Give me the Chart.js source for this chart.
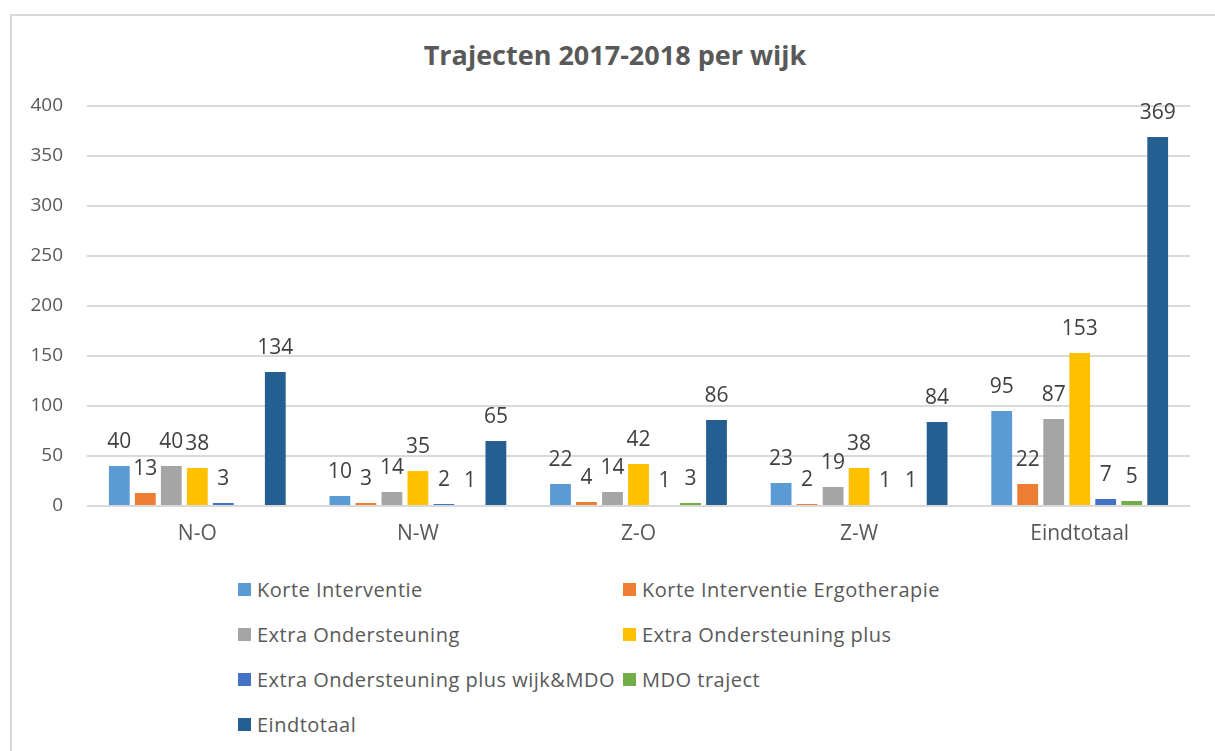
<!DOCTYPE html>
<html>
<head>
<meta charset="utf-8">
<script src="https://cdn.jsdelivr.net/npm/chart.js@4"></script>
<style>
  body { margin: 0; background: #fff; font-family: "Open Sans", sans-serif; }
  #frame { position: absolute; left: 10px; top: 14px; width: 1220px; height: 760px; border: 2px solid #d9d9d9; box-sizing: border-box; }
  #title { position: absolute; left: 0; width: 1230px; top: 36px; text-align: center; font-size: 27px; font-weight: bold; color: #595959; line-height: 38px; }
  #wrap { position: absolute; left: 0; top: 0; width: 1215px; height: 556px; }
  #legend { position: absolute; left: 238px; top: 577px; display: grid; grid-template-columns: 385px 300px; row-gap: 20px; }
  .item { display: flex; align-items: center; height: 25px; font-size: 20px; letter-spacing: 0.5px; color: #595959; white-space: nowrap; }
  .box { width: 13px; height: 13px; margin-right: 6px; flex-shrink: 0; }
</style>
</head>
<body>
<div id="frame"></div>
<div id="title">Trajecten 2017-2018 per wijk</div>
<div id="wrap"><canvas id="chart"></canvas></div>
<div id="legend"></div>
<script>
// categories and series
const wijken = ["N-O", "N-W", "Z-O", "Z-W", "Eindtotaal"];
const seriesNames = [
    "Korte Interventie",
    "Korte Interventie Ergotherapie",
    "Extra Ondersteuning",
    "Extra Ondersteuning plus",
    "Extra Ondersteuning plus wijk&MDO",
    "MDO traject",
    "Eindtotaal"
];
const korteInterventie = [40, 10, 22, 23, 95];
const korteErgo = [13, 3, 4, 2, 22];
const extraOnd = [40, 14, 14, 19, 87];
const extraOndPlus = [38, 35, 42, 38, 153];
const extraOndPlusWijk = [3, 2, 1, 1, 7];
const mdoTraject = [null, 1, 3, 1, 5];
const eindtotaal = [134, 65, 86, 84, 369];
const yTicks = [0, 50, 100, 150, 200, 250, 300, 350, 400];

const colors = ["#5B9BD5", "#ED7D31", "#A5A5A5", "#FFC000", "#4472C4", "#70AD47", "#255E91"];
const seriesData = [korteInterventie, korteErgo, extraOnd, extraOndPlus, extraOndPlusWijk, mdoTraject, eindtotaal];

// value labels above bars
const valueLabels = {
    id: "valueLabels",
    afterDatasetsDraw(chart) {
        const ctx = chart.ctx;
        ctx.save();
        ctx.font = "21px 'Open Sans'";
        ctx.fillStyle = "#404040";
        ctx.textAlign = "center";
        ctx.textBaseline = "alphabetic";
        chart.data.datasets.forEach((ds, i) => {
            chart.getDatasetMeta(i).data.forEach((bar, j) => {
                const v = ds.data[j];
                if (v == null) return;
                ctx.fillText(String(v), bar.x, bar.y - 18);
            });
        });
        ctx.restore();
    }
};

new Chart(document.getElementById("chart"), {
    type: "bar",
    data: {
        labels: wijken,
        datasets: seriesNames.map((name, i) => ({
            label: name,
            data: seriesData[i],
            backgroundColor: colors[i],
            categoryPercentage: 0.825,
            barPercentage: 0.8
        }))
    },
    options: {
        responsive: true,
        maintainAspectRatio: false,
        animation: false,
        layout: { padding: { left: 0, right: 25, top: 106, bottom: 0 } },
        scales: {
            x: {
                grid: { display: false, drawTicks: false },
                border: { display: false },
                afterFit: s => { s.height = 50; },
                ticks: { color: "#595959", font: { family: "Open Sans", size: 21 }, padding: 15 }
            },
            y: {
                min: 0,
                max: 400,
                afterBuildTicks: s => { s.ticks = yTicks.map(v => ({ value: v })); },
                afterFit: s => { s.width = 87; },
                grid: { color: "#d9d9d9", lineWidth: 2, drawTicks: false },
                border: { display: false },
                ticks: { color: "#595959", font: { family: "Open Sans", size: 19 }, padding: 24 }
            }
        },
        plugins: {
            legend: { display: false },
            tooltip: { enabled: false },
            title: { display: false }
        }
    },
    plugins: [valueLabels]
});

// legend in two columns
const legend = document.getElementById("legend");
seriesNames.forEach((name, i) => {
    const item = document.createElement("div");
    item.className = "item";
    const box = document.createElement("span");
    box.className = "box";
    box.style.background = colors[i];
    item.appendChild(box);
    item.appendChild(document.createTextNode(name));
    legend.appendChild(item);
});
</script>
</body>
</html>
